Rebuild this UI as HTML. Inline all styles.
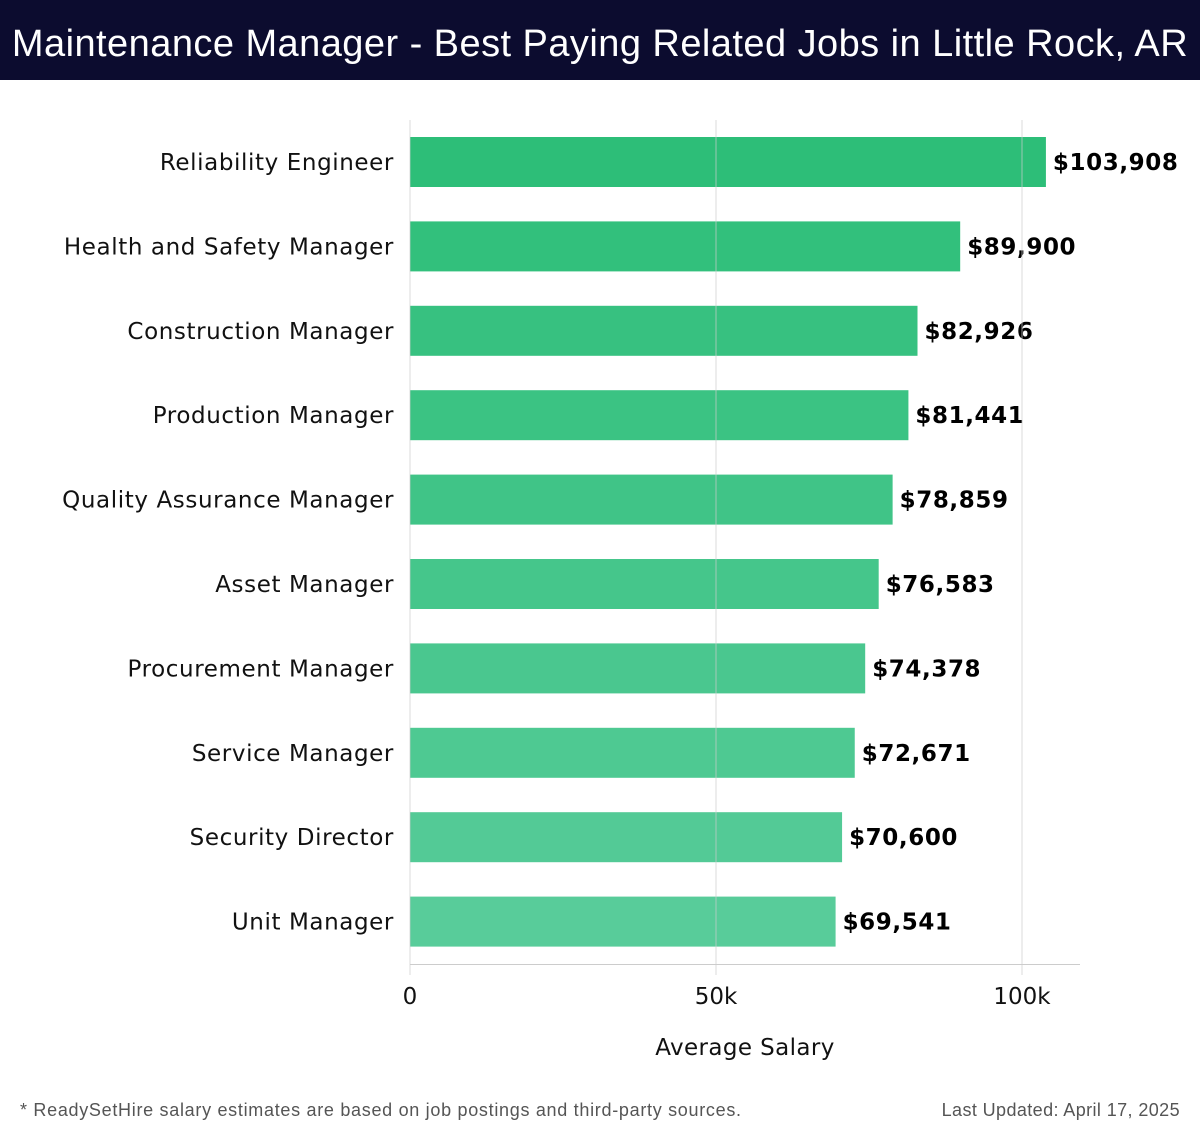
<!DOCTYPE html>
<html><head><meta charset="utf-8"><style>
body{margin:0;width:1200px;height:1140px;background:#fff;overflow:hidden;font-family:"DejaVu Sans","Liberation Sans",sans-serif}
#title{position:absolute;left:0;top:0;width:1200px;height:80px;background:#0c0c2f;color:#fff;font:38px "Liberation Sans",sans-serif;letter-spacing:0.45px;line-height:88px;text-align:center;white-space:nowrap}
.foot{position:absolute;top:1100px;font:18px "Liberation Sans",sans-serif;color:#555;letter-spacing:0.7px}
</style></head><body>
<div id="title">Maintenance Manager - Best Paying Related Jobs in Little Rock, AR</div>
<svg id="chart" width="1200" height="1140" style="position:absolute;left:0;top:0"></svg>
<div class="foot" style="left:20px">* ReadySetHire salary estimates are based on job postings and third-party sources.</div>
<div class="foot" style="right:20px;letter-spacing:0.4px">Last Updated: April 17, 2025</div>
<script>
const categories=["Reliability Engineer","Health and Safety Manager","Construction Manager","Production Manager","Quality Assurance Manager","Asset Manager","Procurement Manager","Service Manager","Security Director","Unit Manager"];
const values=[103908,89900,82926,81441,78859,76583,74378,72671,70600,69541];
const tickValues=[0,50000,100000];
const tickLabels=["0","50k","100k"];
const NS="http://www.w3.org/2000/svg";
const svg=document.getElementById('chart');
const x0=410,pxPer=612/100000,top0=120,step=84.4,barH=50;
const xs=v=>x0+v*pxPer;
const yc=i=>top0+42+i*step;
function mk(t,a,txt){const e=document.createElementNS(NS,t);for(const k in a)e.setAttribute(k,a[k]);if(txt!=null)e.textContent=txt;svg.appendChild(e);return e;}
const c1=[45,190,120],c2=[88,204,154];
categories.forEach((c,i)=>{
 const f=i/(categories.length-1);
 const col=`rgb(${c1.map((v,k)=>Math.round(v+(c2[k]-v)*f)).join(',')})`;
 const r=mk('rect',{x:x0,y:yc(i)-barH/2,width:xs(values[i])-x0,height:barH,fill:col});
 
 
 const l=mk('text',{x:394,y:yc(i)+8,'text-anchor':'end','font-size':23,'letter-spacing':0.6,fill:'#111'},c);
 
 
 const v=mk('text',{x:xs(values[i])+7,y:yc(i)+8,'font-size':23,'font-weight':'bold','letter-spacing':0.6,fill:'#000'},'$'+values[i].toLocaleString('en-US'));
 
 
});
tickValues.forEach((t,i)=>{
 const g=mk('line',{x1:xs(t),x2:xs(t),y1:top0,y2:975,stroke:'#ccc','stroke-width':1,'stroke-opacity':0.7});
 
 
 const tl=mk('text',{x:xs(t),y:1004,'text-anchor':'middle','font-size':23,fill:'#111'},tickLabels[i]);
 
 
});
const ax=mk('line',{x1:x0,x2:1080,y1:964.5,y2:964.5,stroke:'#ccc','stroke-width':1});


const at=mk('text',{x:745,y:1055,'text-anchor':'middle','font-size':23,'letter-spacing':0.4,fill:'#111'},'Average Salary');


</script>
</body></html>
